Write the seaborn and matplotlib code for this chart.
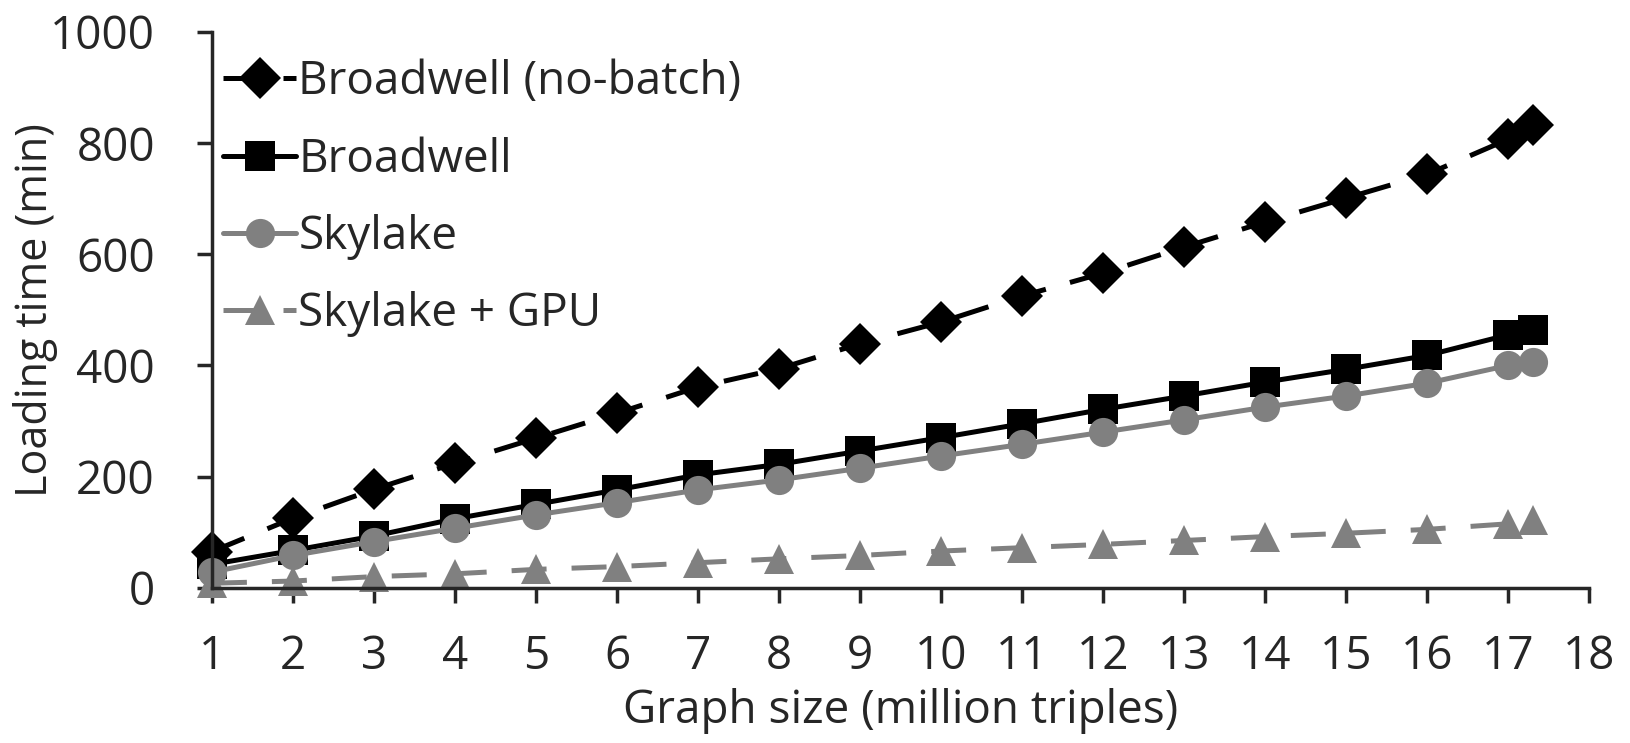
import pandas as pd
import matplotlib
matplotlib.use("Agg")
import matplotlib.pyplot as plt
import seaborn as sns

# --- Data ---
graph_size = [1, 2, 3, 4, 5, 6, 7, 8, 9, 10, 11, 12, 13, 14, 15, 16, 17, 17.3]

broadwell_nobatch = [65, 125, 177, 224, 269, 314, 361, 394, 439, 478, 525, 566, 613, 658, 701, 744, 807, 832]
broadwell = [42, 67, 93, 124, 150, 176, 203, 222, 246, 270, 295, 321, 345, 370, 393, 418, 455, 463]
skylake = [28, 58, 83, 107, 131, 153, 176, 194, 215, 237, 258, 280, 302, 325, 345, 368, 400, 407]
skylake_gpu = [8, 12, 20, 25, 33, 38, 45, 52, 58, 66, 72, 78, 85, 92, 98, 105, 115, 122]

series_names = ['Broadwell (no-batch)', 'Broadwell', 'Skylake', 'Skylake + GPU']
x_ticks = list(range(1, 19))
y_ticks = [0, 200, 400, 600, 800, 1000]

# --- Long-form table for seaborn ---
frames = []
for name, vals in zip(series_names, [broadwell_nobatch, broadwell, skylake, skylake_gpu]):
    frames.append(pd.DataFrame({'size': graph_size, 'time': vals, 'series': name}))
df = pd.concat(frames, ignore_index=True)

GRAY = '#808080'
palette = {'Broadwell (no-batch)': 'black', 'Broadwell': 'black',
           'Skylake': GRAY, 'Skylake + GPU': GRAY}
markers = {'Broadwell (no-batch)': 'D', 'Broadwell': 's',
           'Skylake': 'o', 'Skylake + GPU': '^'}
dashes = {'Broadwell (no-batch)': (7, 5), 'Broadwell': '',
          'Skylake': '', 'Skylake + GPU': (7, 5)}

FS = 33

sns.set_style('ticks')
plt.rcParams['font.family'] = ['Open Sans', 'DejaVu Sans']

fig = plt.figure(figsize=(16.3, 7.43), dpi=100)
ax = fig.add_axes([0.130, 0.209, 0.845, 0.748])

sns.lineplot(data=df, x='size', y='time', hue='series', style='series',
             hue_order=series_names, style_order=series_names,
             palette=palette, markers=markers, dashes=dashes,
             markersize=21, linewidth=3.6, markeredgewidth=0,
             ax=ax, clip_on=False, sort=False)

# --- Axes styling ---
ax.set_xlim(1, 18)
ax.set_ylim(0, 1000)
ax.set_xticks(x_ticks)
ax.set_yticks(y_ticks)
ax.tick_params(axis='both', labelsize=FS, width=2.5, length=11, direction='out')
ax.tick_params(axis='x', pad=22)
ax.tick_params(axis='y', pad=30)
for side in ['top', 'right']:
    ax.spines[side].set_visible(False)
for side in ['left', 'bottom']:
    ax.spines[side].set_linewidth(2.5)

ax.set_xlabel('Graph size (million triples)', fontsize=FS, labelpad=6)
ax.set_ylabel('Loading time (min)', fontsize=31, labelpad=-6)

handles, labels = ax.get_legend_handles_labels()
ax.legend(handles, labels, loc='upper left', bbox_to_anchor=(-0.012, 1.0),
          frameon=False, fontsize=FS, handlelength=1.6, handletextpad=0.05,
          labelspacing=0.68, borderaxespad=0.2)

plt.savefig('out.png', dpi=100)
plt.close(fig)
